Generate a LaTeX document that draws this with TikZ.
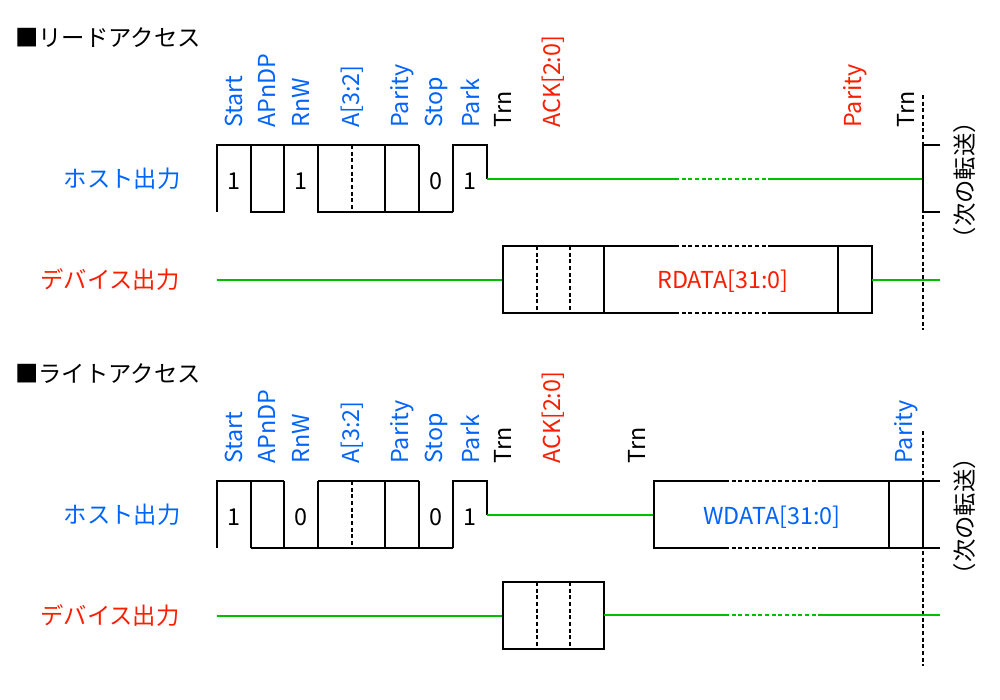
\documentclass[tikz,border=0pt]{standalone}
\usepackage{fontspec}
\setmainfont{Noto Sans CJK JP}
\definecolor{cb}{RGB}{0,100,250}
\definecolor{cr}{RGB}{250,30,0}
\definecolor{cg}{RGB}{0,190,0}
\begin{document}
\begin{tikzpicture}[x=0.75pt,y=-0.75pt,
  sig/.style={line width=1.5pt,black},
  grn/.style={line width=1.5pt,cg},
  dsh/.style={line width=0.8pt,dash pattern=on 3pt off 2pt},
  lab/.style={rotate=90,anchor=west,font=\fontsize{17.5}{17.5}\selectfont,inner sep=0pt},
  val/.style={font=\fontsize{17.5}{17.5}\selectfont},
  side/.style={font=\fontsize{17.5}{17.5}\selectfont}]
\useasboundingbox (0,0) rectangle (1000,700);
\foreach \o/\t in {0/リードアクセス,336/ライトアクセス}{
  \node[side,anchor=west,inner sep=0pt] (t\o) at (15,38+\o) {■\t};
  \node[side,cb] (h\o) at (122,179+\o) {ホスト出力};
  \node[side,cr] (d\o) at (110,280+\o) {デバイス出力};
  \foreach \x/\s in {234/Start,267/APnDP,301/RnW,352/A[3:2],402/Parity,436/Stop,470/Park}
    \node[lab,cb] at (\x,128+\o) {\s};
  \node[lab] at (503,128+\o) {Trn};
  \node[lab,cr] at (553,128+\o) {ACK[2:0]};
  \node[val] at (234,181+\o) {1};
  \node[val] at (436,181+\o) {0};
  \node[val] at (470,181+\o) {1};
  \draw[dsh] (352,145+\o) -- (352,212+\o);
  \draw[dsh] (923,95+\o) -- (923,330+\o);
  \node[lab,anchor=center] at (965,180+\o) {（次の転送）};
  % device ack box
  \draw[grn] (217,280+\o) -- (503,280+\o);
  \draw[sig] (503,246+\o) rectangle (604,313+\o);
  \draw[dsh] (537,246+\o) -- (537,313+\o) (570,246+\o) -- (570,313+\o);
}
% ---- read host
\draw[sig] (217,212) -- (217,145) -- (419,145) (251,145) -- (251,212) -- (284,212) -- (284,145)
  (318,145) -- (318,212) -- (453,212) (385,145) -- (385,212) (419,145) -- (419,212)
  (453,212) -- (453,145) -- (487,145) -- (487,179);
\node[val] at (301,181) {1};
\draw[grn] (487,179) -- (675,179) (770,179) -- (923,179);
\draw[grn,dsh,line width=1.5pt] (675,179) -- (770,179);
\draw[sig] (940,145) -- (923,145) -- (923,212) -- (940,212);
\node[lab,cr] at (855,128) {Parity};
\node[lab] at (906,128) {Trn};
% read device
\draw[sig] (675,246) -- (604,246) -- (604,313) -- (675,313) (770,246) -- (838,246) (770,313) -- (838,313);
\draw[sig,dsh,line width=1.5pt] (675,246) -- (770,246) (675,313) -- (770,313);
\draw[sig] (838,246) rectangle (872,313);
\node[val,cr] at (723,281) {RDATA[31:0]};
\draw[grn] (872,280) -- (940,280);
% ---- write host
\draw[sig] (217,548) -- (217,481) -- (284,481) (251,481) -- (251,548) (251,548) -- (453,548)
  (284,481) -- (284,548) (318,481) -- (318,548) (318,481) -- (419,481) (385,481) -- (385,548)
  (419,481) -- (419,548) (453,548) -- (453,481) -- (487,481) -- (487,515);
\node[val] at (301,517) {0};
\draw[grn] (487,515) -- (654,515);
\draw[sig] (725,481) -- (654,481) -- (654,548) -- (725,548) (820,481) -- (940,481) (820,548) -- (940,548)
  (889,481) -- (889,548) (923,481) -- (923,548);
\draw[sig,dsh,line width=1.5pt] (725,481) -- (820,481) (725,548) -- (820,548);
\node[val,cb] at (772,517) {WDATA[31:0]};
\node[lab] at (637,464) {Trn};
\node[lab,cb] at (906,464) {Parity};
% write device
\draw[grn] (604,615) -- (725,615) (820,615) -- (940,615);
\draw[grn,dsh,line width=1.5pt] (725,615) -- (820,615);
\end{tikzpicture}
\end{document}
